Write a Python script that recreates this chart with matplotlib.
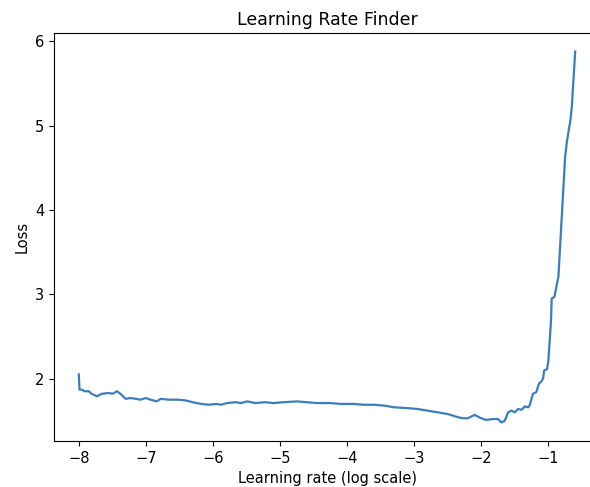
import matplotlib
matplotlib.use("Agg")
import matplotlib.pyplot as plt

# log10 learning rate vs loss
log_lr = [-8.00, -7.99, -7.96, -7.91, -7.85, -7.81, -7.73, -7.66, -7.55, -7.50,
          -7.43, -7.38, -7.30, -7.23, -7.15, -7.08, -7.00, -6.93, -6.84, -6.78,
          -6.66, -6.51, -6.40, -6.30, -6.18, -6.06, -5.95, -5.88, -5.79, -5.66,
          -5.58, -5.49, -5.37, -5.22, -5.10, -4.95, -4.75, -4.60, -4.45, -4.25,
          -4.10, -3.90, -3.75, -3.60, -3.45, -3.30, -3.10, -2.95, -2.80, -2.65,
          -2.50, -2.42, -2.34, -2.27, -2.20, -2.15, -2.10, -2.05, -2.00, -1.93,
          -1.83, -1.75, -1.70, -1.65, -1.60, -1.55, -1.50, -1.45, -1.40, -1.35,
          -1.30, -1.28, -1.23, -1.18, -1.14, -1.10, -1.08, -1.06, -1.02, -1.00,
          -0.99, -0.96, -0.95, -0.91, -0.85, -0.80, -0.75, -0.72, -0.67, -0.65,
          -0.60]
loss = [2.05, 1.87, 1.87, 1.85, 1.85, 1.82, 1.79, 1.82, 1.83, 1.82,
        1.85, 1.82, 1.76, 1.77, 1.76, 1.75, 1.77, 1.75, 1.73, 1.76,
        1.75, 1.75, 1.74, 1.72, 1.70, 1.69, 1.70, 1.69, 1.71, 1.72,
        1.71, 1.73, 1.71, 1.72, 1.71, 1.72, 1.73, 1.72, 1.71, 1.71,
        1.70, 1.70, 1.69, 1.69, 1.68, 1.66, 1.65, 1.64, 1.62, 1.60,
        1.58, 1.56, 1.54, 1.53, 1.53, 1.55, 1.57, 1.55, 1.53, 1.51,
        1.52, 1.52, 1.48, 1.50, 1.60, 1.62, 1.60, 1.64, 1.63, 1.67,
        1.66, 1.68, 1.82, 1.84, 1.94, 1.97, 2.00, 2.10, 2.11, 2.21,
        2.33, 2.69, 2.95, 2.97, 3.21, 3.92, 4.63, 4.83, 5.07, 5.23,
        5.88]

plt.rcParams['font.size'] = 10.5

fig = plt.figure(figsize=(5.9, 4.87), dpi=100)
ax = fig.add_axes([54/590, 46/487, 546/590, 408/487])
ax.plot(log_lr, loss, color='#3a7ebf', linewidth=1.6)

ax.set_xlabel('Learning rate (log scale)')
ax.set_ylabel('Loss')
ax.set_title('Learning Rate Finder', fontsize=12.5)

fig.savefig('out.png', dpi=100)
